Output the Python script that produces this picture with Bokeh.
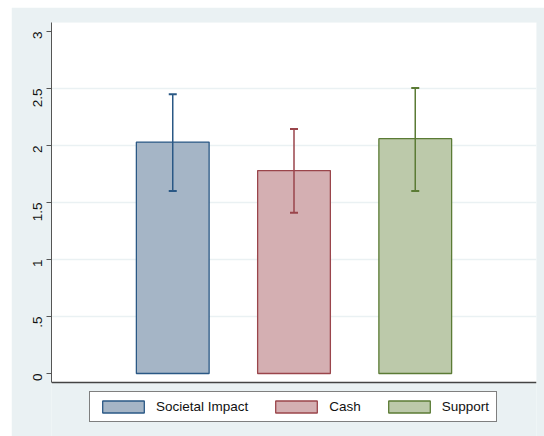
import math
from bokeh.plotting import figure
from bokeh.models import (ColumnDataSource, Whisker, TeeHead, FixedTicker, Legend, LegendItem,
                          Span, BoxAnnotation)
from bokeh.embed import file_html
from bokeh.resources import INLINE

categories = ["Societal Impact", "Cash", "Support"]
positions = [1, 2, 3]
means = [2.03, 1.78, 2.06]
upper = [2.45, 2.145, 2.505]
lower = [1.60, 1.41, 1.60]
fill_colors = ["#a5b5c6", "#d4afb2", "#bcc9aa"]
line_colors = ["#2a5885", "#9a454b", "#5b7b35"]
y_ticks = [0, 0.5, 1, 1.5, 2, 2.5, 3]
y_tick_labels = ["0", ".5", "1", "1.5", "2", "2.5", "3"]
grid_ticks = [0.5, 1, 1.5, 2, 2.5]

# plot region (white area) limits in data units
plot_bottom, plot_top = -0.079, 3.079
plot_h = 360      # px of white plot area
frame_h = 414     # frame extends down under the legend
frame_w = 485
y_start = plot_bottom - (frame_h - plot_h) * (plot_top - plot_bottom) / plot_h

BG = "#eaf1f3"
FONT = "Liberation Sans"

p = figure(frame_width=frame_w, frame_height=frame_h, x_range=(0, 4), y_range=(y_start, plot_top),
           output_backend="svg", toolbar_location=None,
           min_border_left=40, min_border_right=8, min_border_top=15, min_border_bottom=0)
p.margin = (7, 0, 0, 11)
p.border_fill_color = BG
p.background_fill_color = BG
p.outline_line_color = None

# white plot area
p.add_layout(BoxAnnotation(bottom=plot_bottom, fill_color="white", fill_alpha=1.0,
                           line_color=None, level="image"))

p.xgrid.visible = False
p.ygrid.ticker = FixedTicker(ticks=grid_ticks)
p.ygrid.grid_line_color = BG
p.ygrid.grid_line_width = 1.5

p.yaxis.bounds = (plot_bottom, plot_top)
p.yaxis.ticker = FixedTicker(ticks=y_ticks)
p.yaxis.major_label_overrides = {t: l for t, l in zip(y_ticks, y_tick_labels)}
p.yaxis.major_label_orientation = math.pi / 2
p.yaxis.major_label_text_font = FONT
p.yaxis.major_label_text_font_size = "13.5px"
p.yaxis.major_label_text_color = "#111111"
p.yaxis.major_label_standoff = 9
p.yaxis.major_tick_out = 5
p.yaxis.major_tick_in = 0
p.yaxis.minor_tick_line_color = None
p.yaxis.axis_line_color = "#555555"
p.yaxis.major_tick_line_color = "#555555"

p.xaxis.visible = False
p.add_layout(Span(location=plot_bottom, dimension="width", line_color="#444444", line_width=1.5))

items = []
for i in range(len(categories)):
    src = ColumnDataSource(dict(x=[positions[i]], top=[means[i]], upper=[upper[i]], lower=[lower[i]]))
    r = p.vbar(x="x", top="top", bottom=0, width=0.6, source=src,
               fill_color=fill_colors[i], line_color=line_colors[i], line_width=1.3)
    w = Whisker(source=src, base="x", upper="upper", lower="lower",
                line_color=line_colors[i], line_width=1.5, level="overlay",
                upper_head=TeeHead(size=8, line_color=line_colors[i], line_width=2),
                lower_head=TeeHead(size=8, line_color=line_colors[i], line_width=2))
    p.add_layout(w)
    items.append(LegendItem(label=categories[i], renderers=[r]))

legend = Legend(items=items, orientation="horizontal", location=(38, 14),
                glyph_width=52, glyph_height=15, label_height=15, label_standoff=7,
                spacing=22, padding=7, margin=0,
                label_text_font=FONT, label_text_font_size="13.5px", label_text_color="#111111",
                border_line_color="black", border_line_width=1, background_fill_color="white",
                background_fill_alpha=1.0)
p.add_layout(legend, "center")

open("out.html", "w").write(file_html(p, INLINE))
